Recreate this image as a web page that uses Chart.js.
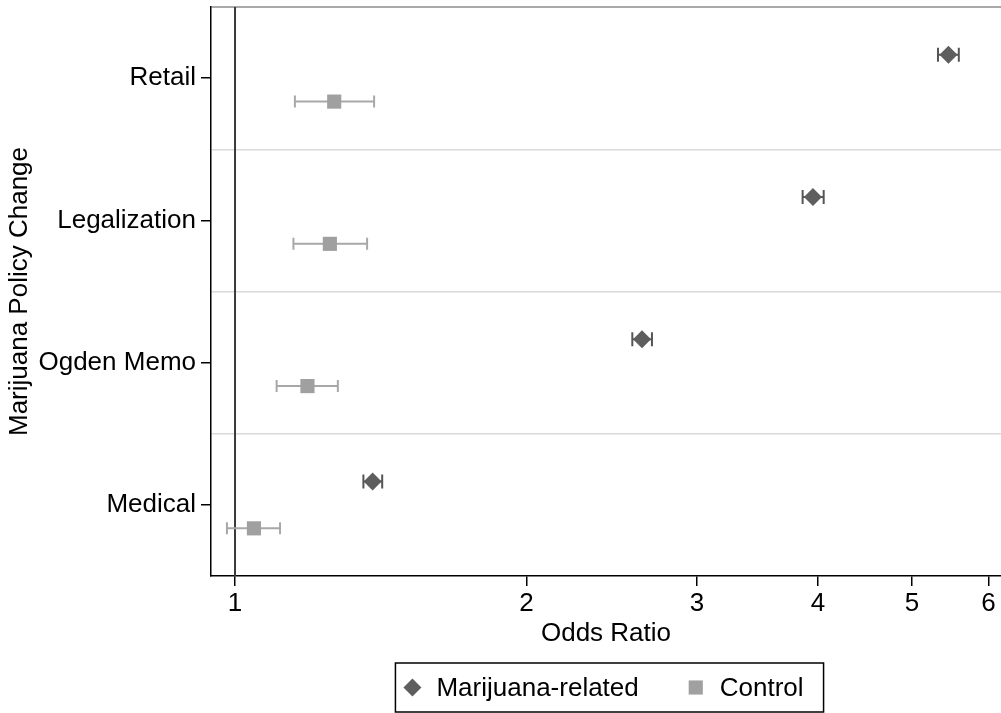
<!DOCTYPE html>
<html><head><meta charset="utf-8">
<script src="https://cdn.jsdelivr.net/npm/chart.js@4/dist/chart.umd.min.js"></script>
<style>html,body{margin:0;padding:0;background:#fff}#wrap{width:1001px;height:713px;position:relative}</style>
</head><body><div id="wrap"><canvas id="c"></canvas></div>
<script>
// ---- data ----
const categories = ['Medical', 'Ogden Memo', 'Legalization', 'Retail'];
const xTicks = [1, 2, 3, 4, 5, 6];
const seriesNames = ['Marijuana-related', 'Control'];
const mjOR = [1.387, 2.632, 3.952, 5.454];
const mjLo = [1.357, 2.572, 3.856, 5.32];
const mjHi = [1.419, 2.695, 4.054, 5.59];
const ctlOR = [1.046, 1.188, 1.253, 1.266];
const ctlLo = [0.981, 1.104, 1.149, 1.153];
const ctlHi = [1.113, 1.277, 1.369, 1.392];
const refValue = 1;

// ---- style / layout ----
const FONT = "'Liberation Sans', Arial, Helvetica, sans-serif";
const FS = 26;
const OFF = 0.165;
Chart.defaults.font.family = FONT;
Chart.defaults.font.size = FS;
Chart.defaults.color = '#000';

function zeroPad(s) { s.paddingTop = 0; s.paddingBottom = 0; s.paddingLeft = 0; s.paddingRight = 0; }

const errorBars = {
  id: 'errorBars',
  beforeDatasetsDraw(chart) {
    const {ctx, scales: {x, y}} = chart;
    chart.data.datasets.forEach(ds => {
      ctx.save();
      ctx.strokeStyle = ds.errColor;
      ctx.lineWidth = 2;
      ds.data.forEach((p, j) => {
        const py = y.getPixelForValue(p.y);
        const a = x.getPixelForValue(ds.errLo[j]);
        const b = x.getPixelForValue(ds.errHi[j]);
        ctx.beginPath();
        ctx.moveTo(a, py); ctx.lineTo(b, py);
        ctx.moveTo(a, py - ds.capHalf); ctx.lineTo(a, py + ds.capHalf);
        ctx.moveTo(b, py - ds.capHalf); ctx.lineTo(b, py + ds.capHalf);
        ctx.stroke();
      });
      ctx.restore();
    });
  }
};

const frameExtras = {
  id: 'frameExtras',
  beforeDatasetsDraw(chart) {
    const {ctx, chartArea: ca, scales: {x}} = chart;
    ctx.save();
    ctx.strokeStyle = '#555';
    ctx.lineWidth = 1.2;
    ctx.beginPath(); ctx.moveTo(ca.left, ca.top); ctx.lineTo(ca.right, ca.top); ctx.stroke();
    const rx = x.getPixelForValue(refValue);
    ctx.strokeStyle = '#3a3a3a';
    ctx.lineWidth = 2;
    ctx.beginPath(); ctx.moveTo(rx, ca.top); ctx.lineTo(rx, ca.bottom); ctx.stroke();
    ctx.restore();
  }
};

function drawMarker(ctx, style, r, cx, cy, color) {
  ctx.fillStyle = color;
  ctx.beginPath();
  if (style === 'rectRot') {
    ctx.moveTo(cx - r, cy); ctx.lineTo(cx, cy - r); ctx.lineTo(cx + r, cy); ctx.lineTo(cx, cy + r);
  } else {
    const s = Math.SQRT1_2 * r;
    ctx.rect(cx - s, cy - s, 2 * s, 2 * s);
  }
  ctx.closePath();
  ctx.fill();
}

const boxLegend = {
  id: 'boxLegend',
  afterDraw(chart) {
    const {ctx, chartArea: ca} = chart;
    ctx.save();
    ctx.font = FS + 'px ' + FONT;
    const padL = 8, markW = 18, gap = 15, itemGap = 48, padR = 20;
    const items = chart.data.datasets.map(ds => ({ds, w: ctx.measureText(ds.label).width}));
    let total = padL + padR + itemGap * (items.length - 1);
    items.forEach(it => total += markW + gap + it.w);
    const cx = (ca.left + ca.right) / 2 + 3.5;
    const left = cx - total / 2, top = 663, h = 49;
    ctx.strokeStyle = '#000'; ctx.lineWidth = 1.5;
    ctx.strokeRect(left, top, total, h);
    let xx = left + padL;
    const my = top + h / 2;
    items.forEach(it => {
      drawMarker(ctx, it.ds.pointStyle, it.ds.legendRadius, xx + markW / 2, my, it.ds.backgroundColor);
      xx += markW + gap;
      ctx.fillStyle = '#000'; ctx.textBaseline = 'middle'; ctx.textAlign = 'left';
      ctx.fillText(it.ds.label, xx, my + 1);
      xx += it.w + itemGap;
    });
    ctx.restore();
  }
};

new Chart(document.getElementById('c'), {
  type: 'scatter',
  data: {
    datasets: [
      {
        label: seriesNames[0],
        data: mjOR.map((v, i) => ({x: v, y: i + OFF})),
        errLo: mjLo, errHi: mjHi, errColor: '#555555', capHalf: 7,
        pointStyle: 'rectRot', pointRadius: 9, legendRadius: 9,
        backgroundColor: '#5e5e5e', borderWidth: 0
      },
      {
        label: seriesNames[1],
        data: ctlOR.map((v, i) => ({x: v, y: i - OFF})),
        errLo: ctlLo, errHi: ctlHi, errColor: '#a8a8a8', capHalf: 6,
        pointStyle: 'rect', pointRadius: 10, legendRadius: 10,
        backgroundColor: '#a0a0a0', borderWidth: 0
      }
    ]
  },
  options: {
    responsive: true, maintainAspectRatio: false, animation: false,
    layout: {autoPadding: false, padding: {top: 7, left: 0, right: 0, bottom: 0}},
    plugins: {legend: {display: false}, tooltip: {enabled: false}},
    scales: {
      x: {
        type: 'logarithmic', min: 0.9445, max: 6.18, bounds: 'data', position: 'bottom',
        afterBuildTicks: s => { s.ticks = xTicks.map(v => ({value: v})); },
        afterFit: s => { s.height = 137; zeroPad(s); },
        ticks: {callback: v => String(v), padding: 2, color: '#000', maxRotation: 0, autoSkip: false, font: {size: FS}},
        grid: {drawOnChartArea: false, drawTicks: true, tickLength: 10, color: '#000', lineWidth: 1.5},
        border: {display: true, color: '#000', width: 1.5},
        title: {display: true, text: 'Odds Ratio', color: '#000', font: {size: FS}, padding: {top: 0, bottom: 64}}
      },
      y: {
        type: 'linear', min: -0.5, max: 3.5, bounds: 'data',
        afterBuildTicks: s => { const t = []; for (let v = -0.5; v <= 3.5; v += 0.5) t.push({value: v}); s.ticks = t; },
        afterFit: s => { s.width = 211; zeroPad(s); },
        ticks: {autoSkip: false, padding: 5, color: '#000', font: {size: FS},
          callback: v => Number.isInteger(v) ? categories[v] : ''},
        grid: {drawOnChartArea: true, drawTicks: true, tickLength: 10, lineWidth: 1.5,
          color: c => { const v = c.tick.value; return (Number.isInteger(v) || v <= -0.5 || v >= 3.5) ? 'rgba(0,0,0,0)' : '#dadada'; },
          tickColor: c => Number.isInteger(c.tick.value) ? '#000' : 'rgba(0,0,0,0)'},
        border: {display: true, color: '#000', width: 1.5},
        title: {display: true, text: 'Marijuana Policy Change', color: '#000', font: {size: FS}, padding: {top: 4, bottom: 0}}
      }
    }
  },
  plugins: [frameExtras, errorBars, boxLegend]
});
</script>
</body></html>
